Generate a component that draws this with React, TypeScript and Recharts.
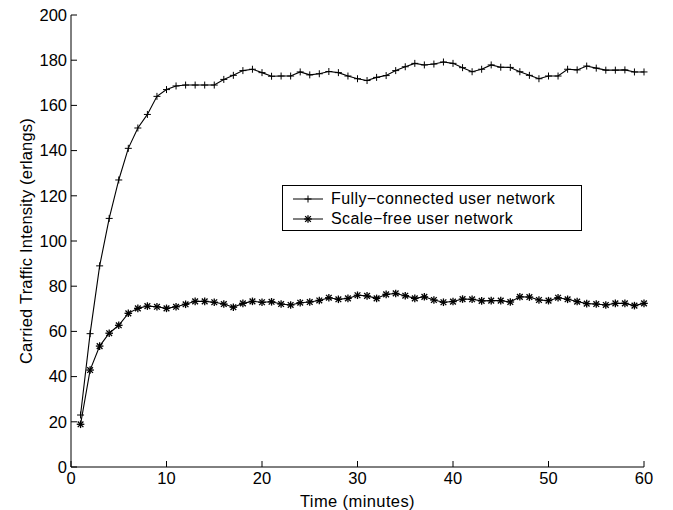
import React from "react";
import { LineChart, Line, XAxis, YAxis, Legend } from "recharts";

const minutes = Array.from({ length: 60 }, (_, i) => i + 1);

const fullyConnected = [
  23, 59, 89, 110, 127, 141, 150, 156, 164, 167,
  168.6, 169, 169, 169, 169, 171.5, 173.3, 175.4, 176, 174.5,
  172.9, 173, 173, 174.8, 173.5, 174, 175, 174.5, 173, 171.8,
  171, 172.4, 173.2, 175.4, 177.1, 178.6, 177.9, 178.3, 179.2, 178.6,
  176.7, 174.9, 176, 177.9, 176.9, 176.8, 174.9, 173.3, 171.8, 173,
  173, 176, 175.7, 177.4, 176.5, 175.6, 175.6, 175.7, 174.8, 174.8,
];

const scaleFree = [
  18.9, 42.9, 53.5, 59.2, 62.7, 68, 70.2, 71.2, 70.9, 70.2,
  70.9, 72, 73.3, 73.3, 72.9, 72.1, 70.7, 72.4, 73.3, 72.9,
  73.1, 72.1, 71.7, 72.7, 73, 73.7, 74.9, 74.2, 74.6, 76,
  75.7, 74.6, 76.4, 76.8, 75.8, 74.6, 75.3, 73.9, 72.9, 73.2,
  74.3, 74.2, 73.5, 73.6, 73.6, 73, 75.3, 75.2, 73.9, 73.6,
  74.9, 74.2, 73.2, 72.3, 72.1, 71.7, 72.4, 72.4, 71.4, 72.4,
];

const xTicks = [0, 10, 20, 30, 40, 50, 60];
const yTicks = [0, 20, 40, 60, 80, 100, 120, 140, 160, 180, 200];

const seriesNames = ["Fully\u2212connected user network", "Scale\u2212free user network"];

const data = minutes.map((t, i) => ({ t, fc: fullyConnected[i], sf: scaleFree[i] }));

const FONT = "'Liberation Sans', Arial, Helvetica, sans-serif";
const INK = "#000";

function Plus({ cx, cy, r = 3.5 }: { cx: number; cy: number; r?: number }) {
  return (
    <g stroke={INK} strokeWidth={1}>
      <line x1={cx - r} y1={cy} x2={cx + r} y2={cy} />
      <line x1={cx} y1={cy - r} x2={cx} y2={cy + r} />
    </g>
  );
}

function Star({ cx, cy, r = 3.8 }: { cx: number; cy: number; r?: number }) {
  const d = r * 0.75;
  return (
    <g stroke={INK} strokeWidth={1.3}>
      <line x1={cx - r} y1={cy} x2={cx + r} y2={cy} />
      <line x1={cx} y1={cy - r} x2={cx} y2={cy + r} />
      <line x1={cx - d} y1={cy - d} x2={cx + d} y2={cy + d} />
      <line x1={cx - d} y1={cy + d} x2={cx + d} y2={cy - d} />
    </g>
  );
}

const plusDot = (p: any) => <Plus key={p.index} cx={p.cx} cy={p.cy} />;
const starDot = (p: any) => <Star key={p.index} cx={p.cx} cy={p.cy} />;

function LegendBox() {
  const rows = [
    { name: seriesNames[0], Marker: Plus },
    { name: seriesNames[1], Marker: Star },
  ];
  return (
    <div
      style={{
        border: "1px solid #000",
        background: "#fff",
        boxSizing: "border-box",
        width: 300,
        height: 46,
        padding: "3px 0 0 0",
        fontFamily: FONT,
        fontSize: 16,
        color: INK,
      }}
    >
      {rows.map(({ name, Marker }) => (
        <div key={name} style={{ display: "flex", alignItems: "center", height: 20 }}>
          <svg width={48} height={20} style={{ display: "block" }}>
            <line x1={10} y1={10} x2={40} y2={10} stroke={INK} strokeWidth={1} />
            <Marker cx={25} cy={10} />
          </svg>
          <span style={{ whiteSpace: "nowrap", letterSpacing: 0.4 }}>{name}</span>
        </div>
      ))}
    </div>
  );
}

const tickStyle = { fill: INK, fontSize: 16.5, fontFamily: FONT };

export default function App() {
  return (
    <div style={{ position: "absolute", left: 0, top: 0, width: 673, height: 510, background: "#fff" }}>
      <LineChart width={673} height={510} data={data} margin={{ top: 15, right: 29, left: 0, bottom: 0 }}>
        <XAxis
          xAxisId="b"
          dataKey="t"
          type="number"
          domain={[0, 60]}
          ticks={xTicks}
          orientation="bottom"
          height={43}
          tickSize={-6}
          tickMargin={11}
          stroke={INK}
          tick={tickStyle}
          axisLine={{ stroke: INK }}
          tickLine={{ stroke: INK }}
          label={{ value: "Time (minutes)", position: "insideBottom", offset: 3, fill: INK, fontSize: 16.5, fontFamily: FONT, style: { letterSpacing: 0.4 } }}
        />
        <XAxis
          xAxisId="t"
          dataKey="t"
          type="number"
          domain={[0, 60]}
          ticks={xTicks}
          orientation="top"
          height={0}
          tickSize={-6}
          tickFormatter={() => ""}
          stroke={INK}
          axisLine={{ stroke: INK }}
          tickLine={{ stroke: INK }}
        />
        <YAxis
          yAxisId="l"
          type="number"
          domain={[0, 200]}
          ticks={yTicks}
          width={71}
          tickSize={-6}
          tickMargin={10}
          stroke={INK}
          tick={tickStyle}
          axisLine={{ stroke: INK }}
          tickLine={{ stroke: INK }}
          label={{ value: "Carried Traffic Intensity (erlangs)", angle: -90, position: "center", dx: -9, fill: INK, fontSize: 16.5, fontFamily: FONT, style: { letterSpacing: 0.2 } }}
        />
        <YAxis
          yAxisId="r"
          type="number"
          orientation="right"
          domain={[0, 200]}
          ticks={yTicks}
          width={0}
          tickSize={-6}
          tickFormatter={() => ""}
          stroke={INK}
          axisLine={{ stroke: INK }}
          tickLine={{ stroke: INK }}
        />
        <Legend
          layout="vertical"
          align="center"
          verticalAlign="middle"
          wrapperStyle={{ left: 282, top: 185, width: 300, height: 46 }}
          content={() => <LegendBox />}
        />
        <Line
          xAxisId="b"
          yAxisId="l"
          dataKey="fc"
          name={seriesNames[0]}
          type="linear"
          stroke={INK}
          strokeWidth={1.1}
          dot={plusDot}
          activeDot={false}
          isAnimationActive={false}
        />
        <Line
          xAxisId="b"
          yAxisId="l"
          dataKey="sf"
          name={seriesNames[1]}
          type="linear"
          stroke={INK}
          strokeWidth={1.1}
          dot={starDot}
          activeDot={false}
          isAnimationActive={false}
        />
      </LineChart>
    </div>
  );
}
